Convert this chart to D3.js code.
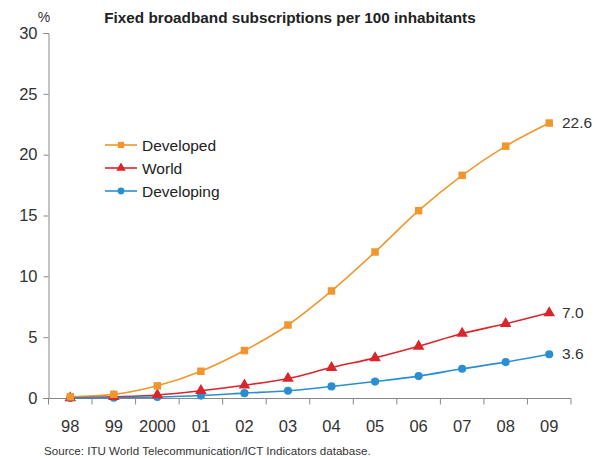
<!DOCTYPE html>
<html><head><meta charset="utf-8">
<script src="https://cdn.jsdelivr.net/npm/d3@7"></script>
<style>body{margin:0;background:#fff}svg{font-family:"Liberation Sans",Arial,sans-serif}</style>
</head><body><svg id="c" width="594" height="458"></svg>
<script>
const years = ["98","99","2000","01","02","03","04","05","06","07","08","09"];
const developed = [0.1,0.3,1.0,2.2,3.9,6.0,8.8,12.0,15.4,18.3,20.7,22.6];
const world = [0.0,0.1,0.25,0.6,1.05,1.6,2.5,3.3,4.25,5.3,6.1,7.0];
const developing = [0.0,0.02,0.08,0.2,0.4,0.6,0.95,1.35,1.8,2.4,2.95,3.6];
const yTicks = [0,5,10,15,20,25,30];
const seriesNames = ["Developed","World","Developing"];
const endLabels = ["22.6","7.0","3.6"];

const svg = d3.select("#c");
const x = d3.scaleBand().domain(years).range([48.5,571]);
const y = d3.scaleLinear().domain([0,30]).range([398,33]);
const colors = ["#F0962C","#D9252B","#2A8FD1"];
const series = [developed, world, developing];
const symbols = [d3.symbolSquare, d3.symbolTriangle, d3.symbolCircle];
const sizes = [56, 58, 52];

// title
svg.append("text").attr("x",290).attr("y",23).attr("text-anchor","middle")
  .attr("font-size",15.3).attr("font-weight","bold").attr("fill","#222")
  .text("Fixed broadband subscriptions per 100 inhabitants");
svg.append("text").attr("x",44).attr("y",22).attr("text-anchor","middle")
  .attr("font-size",14).attr("fill","#333").text("%");

// y axis
const ya = svg.append("g").attr("transform","translate(48.5,0)")
  .call(d3.axisLeft(y).tickValues(yTicks).tickSize(5).tickPadding(6).tickFormat(d3.format("d")));
ya.select(".domain").attr("stroke","#888");
ya.selectAll(".tick line").attr("stroke","#888");
ya.selectAll("text").attr("font-size",16.5).attr("fill","#333").attr("font-family","Liberation Sans, Arial, sans-serif");

// x axis
const xa = svg.append("g").attr("transform","translate(0,398.5)");
xa.append("line").attr("x1",43).attr("x2",571).attr("stroke","#888");
const bounds = years.map(d=>x(d)).concat([x.range()[1]]);
xa.selectAll("line.t").data(bounds).enter().append("line").attr("class","t")
  .attr("x1",d=>d).attr("x2",d=>d).attr("y1",0).attr("y2",6).attr("stroke","#888");
xa.selectAll("text").data(years).enter().append("text")
  .attr("x",d=>x(d)+x.bandwidth()/2).attr("y",33).attr("text-anchor","middle")
  .attr("font-size",16.5).attr("fill","#333").text(d=>d);

// lines
const line = d3.line().x((d,i)=>x(years[i])+x.bandwidth()/2).y(d=>y(d)).curve(d3.curveMonotoneX);
series.forEach((s,k)=>{
  svg.append("path").datum(s).attr("d",line).attr("fill","none")
    .attr("stroke",colors[k]).attr("stroke-width",1.6);
});
series.slice().reverse().forEach((s,kk)=>{
  const k = series.length-1-kk;
  svg.selectAll("path.m"+k).data(s).enter().append("path").attr("class","m"+k)
    .attr("transform",(d,i)=>`translate(${x(years[i])+x.bandwidth()/2},${y(d)})`)
    .attr("d",d3.symbol().type(symbols[k]).size(sizes[k])).attr("fill",colors[k]);
});
// end labels
series.forEach((s,k)=>{
  svg.append("text").attr("x",562).attr("y",y(s[s.length-1])+5)
    .attr("font-size",15.5).attr("fill","#333").text(endLabels[k]);
});

// legend
const legY = [145,168,191];
seriesNames.forEach((n,k)=>{
  const g = svg.append("g");
  g.append("line").attr("x1",105).attr("x2",137).attr("y1",legY[k]).attr("y2",legY[k])
    .attr("stroke",colors[k]).attr("stroke-width",1.6);
  g.append("path").attr("transform",`translate(121,${legY[k]})`)
    .attr("d",d3.symbol().type(symbols[k]).size(sizes[k]*0.7)).attr("fill",colors[k]);
  g.append("text").attr("x",142).attr("y",legY[k]+5.5).attr("font-size",15.5).attr("fill","#222").text(n);
});

// source
svg.append("text").attr("x",44).attr("y",455).attr("font-size",11.6).attr("fill","#333")
  .text("Source: ITU World Telecommunication/ICT Indicators database.");
</script></body></html>
